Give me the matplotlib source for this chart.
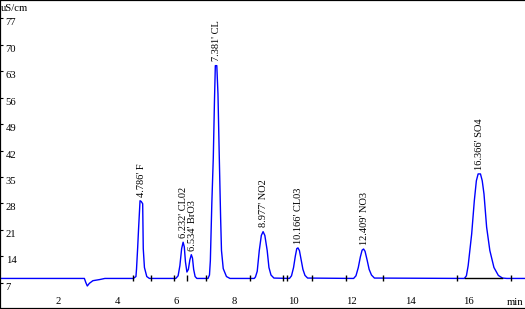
import matplotlib.pyplot as plt
import numpy as np

# chromatogram trace (time in min, conductivity in uS/cm)
times = [0.0, 2.88, 2.93, 2.98, 3.05, 3.17, 3.40, 3.58,
         4.55, 4.64, 4.66, 4.70, 4.73, 4.78, 4.82, 4.87, 4.89, 4.93, 5.01, 5.10,
         6.00, 6.08, 6.14, 6.20, 6.25, 6.29, 6.33, 6.38, 6.43, 6.48, 6.53, 6.57, 6.61, 6.66, 6.72,
         7.10, 7.15, 7.18, 7.23, 7.28, 7.32, 7.35, 7.40, 7.44, 7.48, 7.53, 7.56, 7.62, 7.73, 7.85,
         8.68, 8.72, 8.78, 8.85, 8.92, 8.98, 9.04, 9.12, 9.18, 9.25, 9.35,
         9.88, 9.95, 10.02, 10.08, 10.13, 10.17, 10.22, 10.28, 10.34, 10.41, 10.50,
         12.07, 12.15, 12.23, 12.30, 12.36, 12.41, 12.46, 12.53, 12.60, 12.68, 12.78,
         15.85, 15.92, 15.98, 16.10, 16.19, 16.26, 16.32, 16.40, 16.46, 16.52, 16.61, 16.72,
         16.86, 17.01, 17.15, 17.30, 17.95]
signal = [8.1, 8.1, 7.0, 6.1, 6.8, 7.5, 7.8, 8.1,
          8.1, 8.6, 10.6, 16.4, 21.3, 28.7, 28.5, 27.9, 16.0, 11.0, 8.6, 8.1,
          8.1, 8.8, 11.5, 16.0, 17.7, 16.5, 12.5, 9.8, 10.5, 13.0, 14.4, 13.5, 10.5, 8.6, 8.1,
          8.1, 9.0, 12.8, 27.9, 40.0, 55.0, 64.5, 64.5, 57.0, 42.0, 24.3, 15.5, 10.7, 8.6, 8.1,
          8.1, 8.5, 10.0, 15.5, 19.5, 20.5, 19.5, 15.5, 11.0, 9.0, 8.2,
          8.1, 8.8, 11.0, 14.0, 16.0, 16.2, 15.5, 13.0, 10.5, 8.9, 8.2,
          8.1, 8.8, 11.0, 13.8, 15.6, 15.9, 15.3, 13.0, 10.5, 9.0, 8.2,
          8.1, 8.8, 11.5, 19.9, 28.7, 34.0, 35.8, 35.8, 34.0, 30.5, 21.7, 15.5,
          11.0, 8.9, 8.2, 8.1, 8.1]

# peak labels
peak_times = [4.79, 6.25, 6.54, 7.38, 8.98, 10.17, 12.41, 16.36]
peak_heights = [28.7, 17.7, 14.4, 64.5, 20.5, 16.2, 15.9, 35.8]
peak_names = ["4.786' F", "6.232' CL02", "6.534' BrO3", "7.381' CL",
              "8.977' NO2", "10.166' CL03", "12.409' NO3", "16.366' SO4"]

# integration markers on the baseline
marker_times = [4.55, 5.14, 5.94, 6.39, 7.02, 8.53, 9.65, 9.81, 10.64, 11.81, 13.08, 15.61, 17.44]
baseline = 8.1

yticks = [7, 14, 21, 28, 35, 42, 49, 56, 63, 70, 77]
xticks = [2, 4, 6, 8, 10, 12, 14, 16]

plt.rcParams['font.family'] = ['Liberation Serif', 'DejaVu Serif']

fig = plt.figure(figsize=(5.25, 3.09), dpi=100)
ax = fig.add_axes([0, 0, 1, 1])

ax.plot(times, signal, color='#0000ff', linewidth=1.0)
ax.plot([15.87, 17.12], [baseline, baseline], color='black', linewidth=1.0)
ax.vlines(marker_times, baseline - 0.8, baseline + 0.8, color='black', linewidth=1.0)

for t, h, name in zip(peak_times, peak_heights, peak_names):
    ax.annotate(name, (t, h), xytext=(0.5, 3), textcoords='offset points',
                rotation=90, ha='center', va='bottom', fontsize=7.5)

ax.set_xlim(0, 17.92)
ax.set_ylim(0, 81.9)

ax.set_yticks(yticks)
ax.set_xticks(xticks)
ax.tick_params(axis='y', direction='in', length=2, width=0.8, pad=-4, labelsize=7.7)
ax.tick_params(axis='x', direction='in', length=0, pad=-2, labelsize=7.7)
for lab in ax.get_yticklabels():
    lab.set_horizontalalignment('left')
    lab.set_verticalalignment('top')
for lab in ax.get_xticklabels():
    lab.set_verticalalignment('bottom')

ax.text(0.002, 0.987, 'uS/cm', transform=ax.transAxes, ha='left', va='top', fontsize=7.7)
ax.text(0.996, 0.006, 'min', transform=ax.transAxes, ha='right', va='bottom', fontsize=7.7)

ax.spines['right'].set_visible(False)
for s in ['top', 'left', 'bottom']:
    ax.spines[s].set_linewidth(1.6)

fig.savefig('out.png', dpi=100)
